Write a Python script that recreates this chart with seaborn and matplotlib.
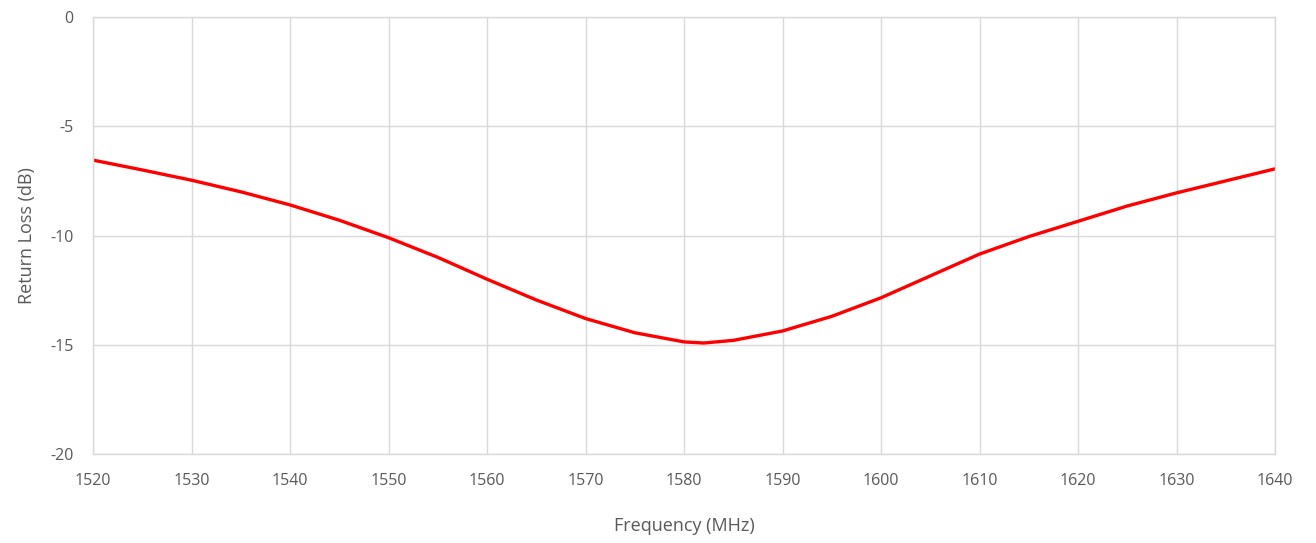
import matplotlib
matplotlib.use("Agg")
import matplotlib.pyplot as plt
import seaborn as sns
import pandas as pd

freq_mhz = [1520, 1525, 1530, 1535, 1540, 1545, 1550, 1555, 1560, 1565, 1570,
            1575, 1580, 1582, 1585, 1590, 1595, 1600, 1605, 1610, 1615, 1620,
            1625, 1630, 1635, 1640]
return_loss_db = [-6.55, -7.0, -7.47, -8.0, -8.6, -9.3, -10.1, -11.0, -12.0,
                  -12.95, -13.8, -14.45, -14.87, -14.92, -14.8, -14.37, -13.7,
                  -12.85, -11.85, -10.85, -10.05, -9.35, -8.65, -8.05, -7.5, -6.95]
x_ticks = [1520, 1530, 1540, 1550, 1560, 1570, 1580, 1590, 1600, 1610, 1620, 1630, 1640]
y_ticks = [0, -5, -10, -15, -20]

df = pd.DataFrame({"Frequency (MHz)": freq_mhz, "Return Loss (dB)": return_loss_db})

sns.set_theme(style="white")
plt.rcParams['font.family'] = ['Open Sans', 'DejaVu Sans']

fig = plt.figure(figsize=(13.16, 5.43), dpi=100)
ax = fig.add_axes([93/1316, 89/543, (1275-93)/1316, (454-17)/543])

sns.lineplot(data=df, x="Frequency (MHz)", y="Return Loss (dB)", ax=ax,
             color="#ff0000", linewidth=2.4)

ax.set_xlim(1520, 1640)
ax.set_ylim(-20, 0)
ax.set_xticks(x_ticks)
ax.set_yticks(y_ticks)
ax.set_xticklabels([str(t) for t in x_ticks])
ax.set_yticklabels([str(t) for t in y_ticks])
ax.grid(True, color="#d9d9d9", linewidth=1.0)
ax.set_axisbelow(True)
for s in ax.spines.values():
    s.set_color("#d9d9d9")
    s.set_linewidth(1.0)
ax.tick_params(axis="x", length=0, labelsize=11.5, colors="#595959", pad=14)
ax.tick_params(axis="y", length=0, labelsize=11.5, colors="#595959", pad=14)
ax.set_xlabel("Frequency (MHz)", fontsize=13, color="#595959", labelpad=20)
ax.set_ylabel("Return Loss (dB)", fontsize=13, color="#595959", labelpad=10)

fig.savefig("out.png", dpi=100, facecolor="white")
